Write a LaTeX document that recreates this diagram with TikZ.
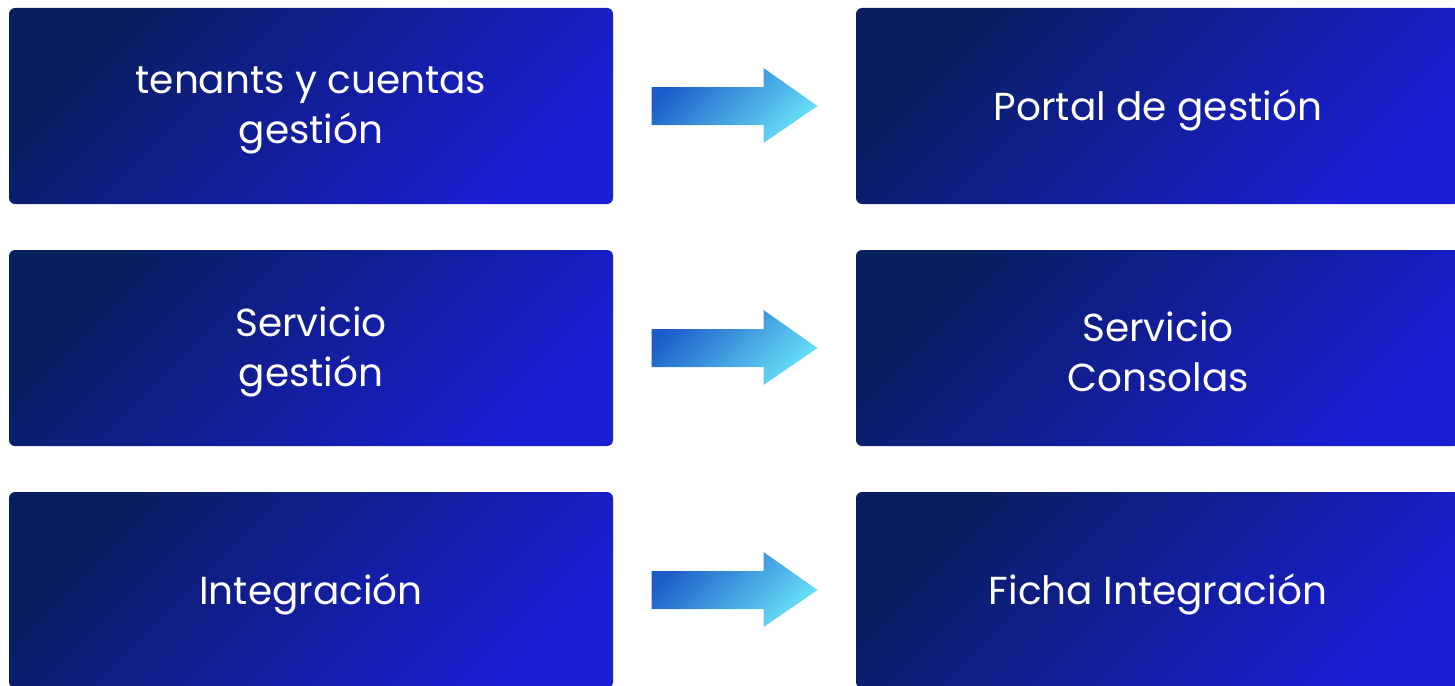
\documentclass[tikz,border=0pt]{standalone}
\usepackage{fontspec}
\setmainfont{Poppins}
\usetikzlibrary{calc}
\definecolor{boxdark}{RGB}{8,30,95}
\definecolor{boxbright}{RGB}{28,30,212}
\definecolor{arrdark}{RGB}{28,92,200}
\definecolor{arrlight}{RGB}{104,224,248}
\begin{document}
\begin{tikzpicture}[x=1pt,y=-1pt,
  boxstyle/.style={rounded corners=6pt, top color=boxdark, bottom color=boxbright, shading angle=45,
    minimum width=604pt, minimum height=196pt, inner sep=0pt},
  lbl/.style={text=white, font=\fontsize{39}{50}\selectfont, align=center, inner sep=0pt},
  arrowfill/.style={top color=arrdark, bottom color=arrlight, shading angle=45}]
\useasboundingbox (0,0) rectangle (1455,685);
\clip (0,0) rectangle (1455,685);
\node[boxstyle] (l1) at (311,106) {};
\node[boxstyle] (l2) at (311,348) {};
\node[boxstyle] (l3) at (311,590) {};
\node[boxstyle] (r1) at (1158,106) {};
\node[boxstyle] (r2) at (1158,348) {};
\node[boxstyle] (r3) at (1158,590) {};
\node[lbl] (t1) at ([yshift=-4pt]l1.center) {tenants y cuentas\\gestión};
\node[lbl] (t2) at ([yshift=-4pt]l2.center) {Servicio\\gestión};
\node[lbl] (t3) at ([yshift=-4pt]l3.center) {Integración};
\node[lbl] (u1) at ([yshift=-4pt]r1.center) {Portal de gestión};
\node[lbl] (u2) at ([yshift=-4pt]r2.center) {Servicio\\Consolas};
\node[lbl] (u3) at ([yshift=-4pt]r3.center) {Ficha Integración};
\foreach \i in {1,2,3}{
  \coordinate (a\i) at ($(l\i.east)!0.5!(r\i.west)$);
  \path[arrowfill] ([shift={(-83,-19)}]a\i) -- ([shift={(29,-19)}]a\i) -- ([shift={(29,-38)}]a\i)
    -- ([shift={(83,0)}]a\i) -- ([shift={(29,37)}]a\i) -- ([shift={(29,19)}]a\i)
    -- ([shift={(-83,19)}]a\i) -- cycle;
}
\end{tikzpicture}
\end{document}
